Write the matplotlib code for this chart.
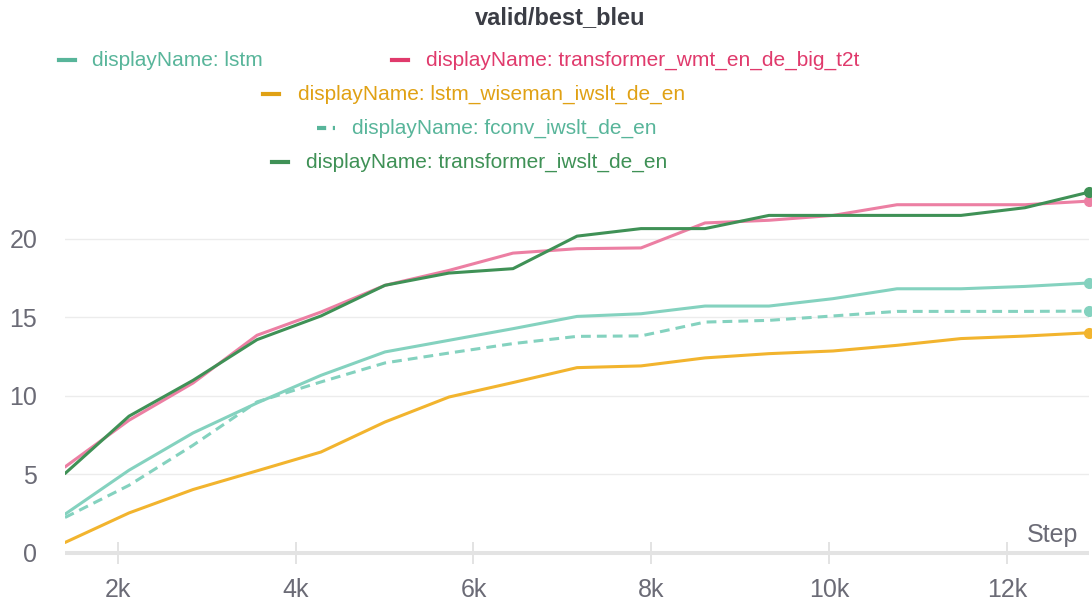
import matplotlib
matplotlib.use("Agg")
import matplotlib.pyplot as plt
import matplotlib.ticker as mticker
from matplotlib.lines import Line2D

plt.rcParams['font.family'] = ['Liberation Sans', 'DejaVu Sans']

# donnees
steps = [1405, 2125, 2845, 3565, 4285, 5005, 5725, 6445, 7165, 7885,
         8605, 9325, 10045, 10765, 11485, 12205, 12925]

bleu_lstm = [2.45, 5.25, 7.62, 9.53, 11.29, 12.78, 13.52, 14.26, 15.04, 15.21,
             15.7, 15.7, 16.17, 16.8, 16.8, 16.95, 17.17]
bleu_wmt_big = [5.46, 8.43, 10.8, 13.84, 15.32, 17.02, 17.97, 19.07, 19.35, 19.4,
                20.99, 21.16, 21.47, 22.15, 22.15, 22.15, 22.38]
bleu_wiseman = [0.65, 2.53, 4.02, 5.21, 6.41, 8.32, 9.91, 10.83, 11.78, 11.89,
                12.4, 12.67, 12.84, 13.2, 13.63, 13.79, 14.0]
bleu_fconv = [2.24, 4.29, 6.84, 9.6, 10.87, 12.08, 12.71, 13.31, 13.77, 13.8,
              14.68, 14.79, 15.07, 15.36, 15.36, 15.36, 15.38]
bleu_transformer = [5.04, 8.69, 10.97, 13.56, 15.07, 17.02, 17.8, 18.08, 20.15, 20.63,
                    20.63, 21.47, 21.47, 21.47, 21.47, 21.96, 22.95]

x_ticks = [2000, 4000, 6000, 8000, 10000, 12000]
y_ticks = [0, 5, 10, 15, 20]

W, H = 1092, 606
fig = plt.figure(figsize=(W / 100, H / 100), dpi=100)

# axes en pixels : gauche 65, droite 1089, zero a 552.7
ax_left, ax_right = 65, 1089
y0_px, ppu = 552.7, 15.71
y_top = 23.5
ax = fig.add_axes([ax_left / W, (H - y0_px) / H,
                   (ax_right - ax_left) / W, y_top * ppu / H])

gray = '#6b6b76'
series = [
    # label, valeurs, couleur ligne, couleur texte, style
    ('displayName: transformer_wmt_en_de_big_t2t', bleu_wmt_big, '#ec7fa3', '#e03a6c', '-'),
    ('displayName: lstm_wiseman_iwslt_de_en', bleu_wiseman, '#f2b42e', '#e0a114', '-'),
    ('displayName: fconv_iwslt_de_en', bleu_fconv, '#84d2bf', '#58b59a', (0, (3.2, 2))),
    ('displayName: lstm', bleu_lstm, '#84d2bf', '#58b59a', '-'),
    ('displayName: transformer_iwslt_de_en', bleu_transformer, '#3f9156', '#3f9156', '-'),
]

for label, vals, col, tcol, ls in series:
    ax.plot(steps, vals, color=col, lw=2.2, linestyle=ls, solid_capstyle='round')
    ax.plot(steps[-1], vals[-1], 'o', color=col, ms=7, clip_on=False, zorder=5)

ax.set_xlim(steps[0], steps[-1])
ax.set_ylim(0, y_top)
ax.set_xticks(x_ticks)
ax.set_yticks(y_ticks)
ax.xaxis.set_major_formatter(mticker.FuncFormatter(lambda v, p: f'{int(v / 1000)}k'))

for s in ['top', 'right', 'left']:
    ax.spines[s].set_visible(False)
ax.spines['bottom'].set_color('#e3e3e3')
ax.spines['bottom'].set_linewidth(2.9)
ax.spines['bottom'].set_capstyle('butt')

ax.grid(axis='y', color='#ececec', lw=1.0)
ax.set_axisbelow(True)
ax.tick_params(axis='x', direction='inout', length=15.8, width=1.4, color='#e3e3e3',
               labelsize=18, labelcolor=gray, pad=10)
ax.tick_params(axis='y', length=0, labelsize=18, labelcolor=gray, pad=20)

ax.text(1078 / W, 1 - 541.7 / H, 'Step', transform=fig.transFigure, ha='right',
        va='baseline', fontsize=18, color=gray)

fig.text(560 / W, 1 - 18 / H, 'valid/best_bleu', ha='center', va='center',
         fontsize=17, fontweight='bold', color='#3b3d45')

# legende placee a la main (style wandb)
legend_pos = {
    'displayName: lstm': (59, 92, 60),
    'displayName: transformer_wmt_en_de_big_t2t': (392, 426, 60),
    'displayName: lstm_wiseman_iwslt_de_en': (263, 298, 94),
    'displayName: fconv_iwslt_de_en': (317, 352, 128),
    'displayName: transformer_iwslt_de_en': (272, 306, 162),
}
for label, vals, col, tcol, ls in series:
    mx, tx, ty = legend_pos[label]
    yf = 1 - ty / H
    if ls == '-':
        fig.add_artist(Line2D([mx / W, (mx + 16) / W], [yf, yf], color=tcol, lw=3,
                              transform=fig.transFigure))
    else:
        fig.add_artist(Line2D([mx / W, (mx + 18) / W], [yf, yf], color=tcol, lw=3,
                              linestyle=(0, (2.2, 1.6)), transform=fig.transFigure))
    fig.text(tx / W, yf, label, ha='left', va='center', fontsize=15, color=tcol)

fig.savefig('out.png', dpi=100)
